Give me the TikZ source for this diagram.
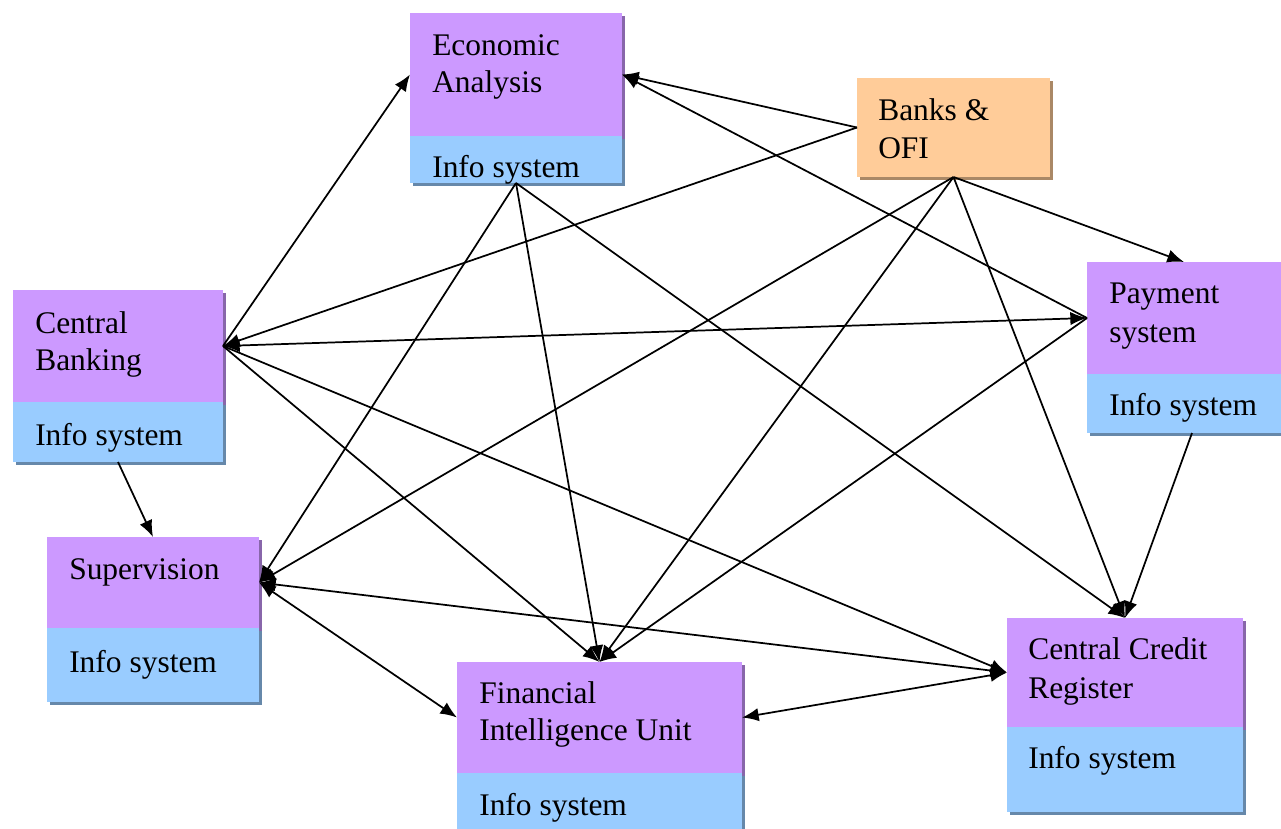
\documentclass[tikz,border=0pt]{standalone}
\usepackage{fontspec}
\setmainfont{Liberation Serif}
\usetikzlibrary{arrows.meta}
\definecolor{purp}{HTML}{CC99FF}
\definecolor{purpsh}{HTML}{8866AA}
\definecolor{infob}{HTML}{99CCFF}
\definecolor{infosh}{HTML}{6688AA}
\definecolor{oran}{HTML}{FFCC99}
\definecolor{oransh}{HTML}{AA8866}
\newcommand\partbox[7]{%
  \fill[#7] (#2+3,#3+3) rectangle (#4+3,#5+3);
  \node[part, fill=#6, anchor=north west, minimum width={(#4-#2)*0.75pt}, minimum height={(#5-#3)*0.75pt}] (#1) at (#2,#3) {};
}
\begin{document}
\begin{tikzpicture}[x=0.75pt,y=-0.75pt,
  part/.style={draw=none, inner sep=0pt, outer sep=0pt},
  lbl/.style={anchor=base west, inner sep=0pt, font=\fontsize{23.6}{28}\selectfont},
  conn/.style={line width=1.3pt, -{Latex[length=12.5pt,width=10pt]}},
  conntwo/.style={line width=1.3pt, {Latex[length=12.5pt,width=10pt]}-{Latex[length=12.5pt,width=10pt]}}]
\useasboundingbox (0,0) rectangle (1281,828);
\clip (0,0) rectangle (1281,828);
\fill[white] (0,0) rectangle (1281,828);

% Economic Analysis
\partbox{ea}{410}{13}{622}{136}{purp}{purpsh}
\partbox{eai}{410}{136}{622}{183}{infob}{infosh}
\node[lbl] (eat1) at (432,55) {Economic};
\node[lbl] (eat2) at (432,92) {Analysis};
\node[lbl] (eat3) at (432,177) {Info system};

% Banks & OFI
\partbox{bk}{857}{78}{1050}{177}{oran}{oransh}
\node[lbl] (bkt1) at (878,120) {Banks \&};
\node[lbl] (bkt2) at (878,158) {OFI};

% Central Banking
\partbox{cb}{13}{290}{223}{402}{purp}{purpsh}
\partbox{cbi}{13}{402}{223}{462}{infob}{infosh}
\node[lbl] (cbt1) at (35,333) {Central};
\node[lbl] (cbt2) at (35,370) {Banking};
\node[lbl] (cbt3) at (35,445) {Info system};

% Payment system
\partbox{pay}{1087}{262}{1281}{374}{purp}{purpsh}
\partbox{payi}{1087}{374}{1281}{433}{infob}{infosh}
\node[lbl] (payt1) at (1109,303) {Payment};
\node[lbl] (payt2) at (1109,342) {system};
\node[lbl] (payt3) at (1109,415) {Info system};

% Supervision
\partbox{sup}{47}{537}{259}{628}{purp}{purpsh}
\partbox{supi}{47}{628}{259}{702}{infob}{infosh}
\node[lbl] (supt1) at (69,579) {Supervision};
\node[lbl] (supt2) at (69,672) {Info system};

% Financial Intelligence Unit
\partbox{fiu}{457}{662}{742}{773}{purp}{purpsh}
\partbox{fiui}{457}{773}{742}{840}{infob}{infosh}
\node[lbl] (fiut1) at (479,703) {Financial};
\node[lbl] (fiut2) at (479,740) {Intelligence Unit};
\node[lbl] (fiut3) at (479,815) {Info system};

% Central Credit Register
\partbox{ccr}{1007}{618}{1243}{727}{purp}{purpsh}
\partbox{ccri}{1007}{727}{1243}{812}{infob}{infosh}
\node[lbl] (ccrt1) at (1028,659) {Central Credit};
\node[lbl] (ccrt2) at (1028,698) {Register};
\node[lbl] (ccrt3) at (1028,768) {Info system};

% connectors
\draw[conn] (cb.east) -- (ea.west);
\draw[conn] (bk.west) -- (ea.east);
\draw[conn] (bk.west) -- (cb.east);
\draw[conn] (pay.west) -- (ea.east);
\draw[conntwo] (cb.east) -- (pay.west);
\draw[conn] (bk.south) -- (pay.north);
\draw[conn] (bk.south) -- (ccr.north);
\draw[conn] (bk.south) -- (fiu.north);
\draw[conn] (bk.south) -- (sup.east);
\draw[conn] (pay.west) -- (fiu.north);
\draw[conn] ([xshift=6pt]payi.south) -- (ccr.north);
\draw[conn] (eai.south) -- (fiu.north);
\draw[conn] (eai.south) -- (ccr.north);
\draw[conn] (eai.south) -- (sup.east);
\draw[conn] (cb.east) -- (fiu.north);
\draw[conn] (cb.east) -- (ccr.west);
\draw[conn] (cbi.south) -- (sup.north);
\draw[conntwo] (sup.east) -- (ccr.west);
\draw[conntwo] (sup.east) -- (fiu.west);
\draw[conntwo] (fiu.east) -- (ccr.west);
\end{tikzpicture}
\end{document}
